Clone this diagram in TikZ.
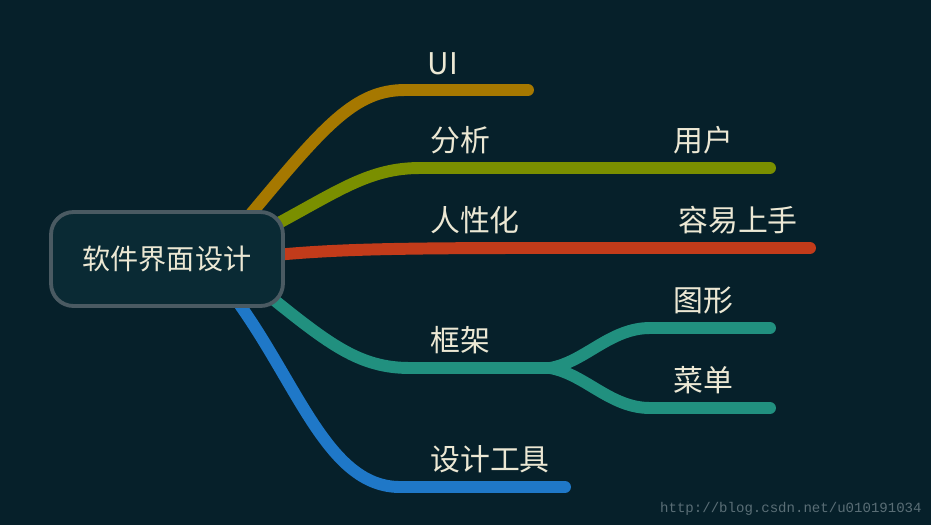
\documentclass[tikz,border=0pt]{standalone}
\usepackage{fontspec}
\setmainfont{Noto Sans CJK SC}
\setmonofont{Liberation Mono}
\usepackage{xcolor}
\definecolor{bgdark}{RGB}{6,32,42}
\definecolor{rootfill}{RGB}{10,42,52}
\definecolor{rootline}{RGB}{74,90,98}
\definecolor{txtcream}{RGB}{236,232,212}
\definecolor{brorange}{RGB}{166,120,0}
\definecolor{brolive}{RGB}{122,143,0}
\definecolor{brred}{RGB}{194,59,26}
\definecolor{brteal}{RGB}{33,144,127}
\definecolor{brblue}{RGB}{31,120,200}
\definecolor{wmgray}{RGB}{90,110,118}
\usepackage{tikz}
\usetikzlibrary{positioning}

\begin{document}
\begin{tikzpicture}[
  x=0.02cm, y=-0.02cm,
  root/.style={
    rectangle, rounded corners=0.45cm, draw=rootline, line width=2.2pt,
    fill=rootfill, minimum width=4.64cm, minimum height=1.88cm,
    font=\fontsize{16}{18}\selectfont\color{txtcream}, inner sep=4pt
  },
  lbl/.style={anchor=south, font=\fontsize{17}{19}\selectfont\color{txtcream}, inner sep=3pt},
  branch/.style={line width=6.8pt, line cap=round},
]

%% Fondo
\useasboundingbox (0,0) rectangle (931,525);
\fill[bgdark] (0,0) rectangle (931,525);

%% Puntos de las ramas
\coordinate (ui0)  at (250,215);
\coordinate (ui1)  at (420,90);
\coordinate (ui2)  at (528,90);
\coordinate (an0)  at (275,225);
\coordinate (an1)  at (520,168);
\coordinate (an2)  at (770,168);
\coordinate (hu0)  at (275,255);
\coordinate (hu1)  at (530,248);
\coordinate (hu2)  at (810,248);
\coordinate (fw0)  at (268,295);
\coordinate (fw1)  at (530,368);
\coordinate (gr1)  at (650,328);
\coordinate (gr2)  at (770,328);
\coordinate (cd1)  at (650,408);
\coordinate (cd2)  at (770,408);
\coordinate (tl0)  at (240,305);
\coordinate (tl1)  at (400,487);
\coordinate (tl2)  at (565,487);

%% Ramas
\draw[branch, brorange] (ui0) .. controls (325,125) and (355,90) .. (405,90) -- (ui2);
\draw[branch, brolive]  (an0) .. controls (340,190) and (370,168) .. (420,168) -- (an2);
\draw[branch, brred]    (hu0) .. controls (330,250) and (380,248) .. (hu1) -- (hu2);
\draw[branch, brteal]   (fw0) .. controls (330,345) and (360,368) .. (410,368) -- (fw1);
\draw[branch, brteal]   (fw1) -- (550,368) .. controls (585,362) and (610,328) .. (gr1) -- (gr2);
\draw[branch, brteal]   (fw1) -- (550,368) .. controls (585,374) and (610,408) .. (cd1) -- (cd2);
\draw[branch, brblue]   (tl0) .. controls (300,390) and (330,487) .. (400,487) -- (tl2);

%% Nodo central
\node[root] (soft) at (167,259) {软件界面设计};

%% Etiquetas
\node[lbl] (ui)   at (443,81)  {UI};
\node[lbl] (anal) at (460,160) {分析};
\node[lbl] (user) at (703,160) {用户};
\node[lbl] (hum)  at (475,240) {人性化};
\node[lbl] (easy) at (738,240) {容易上手};
\node[lbl] (frm)  at (460,360) {框架};
\node[lbl] (grf)  at (703,320) {图形};
\node[lbl] (menu) at (703,400) {菜单};
\node[lbl] (tool) at (490,479) {设计工具};

%% Marca de agua
\node[anchor=east, font=\fontsize{8}{9}\selectfont\ttfamily\color{wmgray}, inner sep=0pt] (wm) at (922,509) {http://blog.csdn.net/u010191034};

\end{tikzpicture}
\end{document}
